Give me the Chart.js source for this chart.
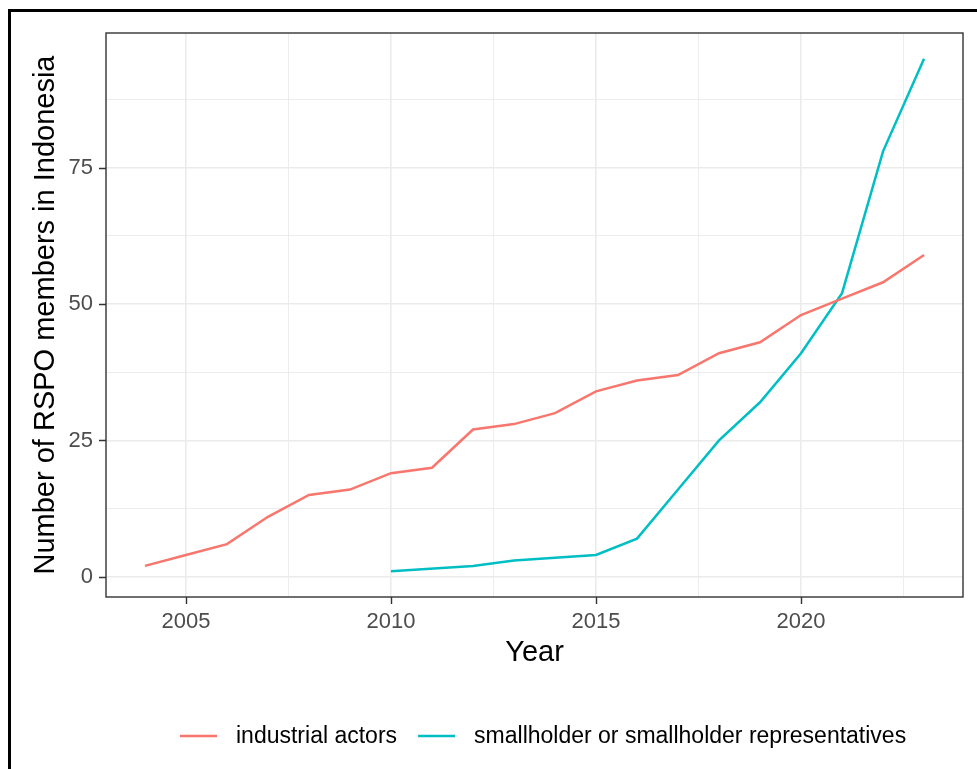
<!DOCTYPE html>
<html>
<head>
<meta charset="utf-8">
<title>RSPO members in Indonesia</title>
<script src="https://cdn.jsdelivr.net/npm/chart.js@4.4.1/dist/chart.umd.min.js"></script>
<style>
  html, body { margin: 0; padding: 0; background: #fff; }
  #wrap { position: relative; width: 977px; height: 769px; }
  #frame { position: absolute; left: 8px; top: 9px; right: 0; bottom: 0;
           border-left: 3px solid #000; border-top: 3px solid #000; pointer-events: none; }
  canvas { position: absolute; left: 0; top: 0; }
</style>
</head>
<body>
<div id="wrap">
  <canvas id="rspo-chart" width="977" height="769"></canvas>
  <div id="frame"></div>
</div>
<script>
// Datos
const years = [2004, 2005, 2006, 2007, 2008, 2009, 2010, 2011, 2012, 2013,
               2014, 2015, 2016, 2017, 2018, 2019, 2020, 2021, 2022, 2023];
const industrialActors = [2, 4, 6, 11, 15, 16, 19, 20, 27, 28,
                          30, 34, 36, 37, 41, 43, 48, 51, 54, 59];
const smallholders = [null, null, null, null, null, null, 1, null, 2, 3,
                      3.5, 4, 7, 16, 25, 32, 41, 52, 78, 95];
const seriesLabels = ['industrial actors', 'smallholder or smallholder representatives'];
const seriesColors = ['#F8766D', '#00BFC4'];
const xTicks = [2005, 2007.5, 2010, 2012.5, 2015, 2017.5, 2020, 2022.5];
const yTicks = [0, 12.5, 25, 37.5, 50, 62.5, 75, 87.5];

const FONT = "'Liberation Sans', Arial, sans-serif";
const GRID = '#EBEBEB';
const DARK = '#333333';
const TICK_LEN = 7;

function toPoints(values) {
    return years.map((year, i) => ({ x: year, y: values[i] }));
}

// Marco del panel y marcas de los ejes (como theme_bw)
const panelBorder = {
    id: 'panelBorder',
    afterDatasetsDraw(chart) {
        const { ctx, chartArea: a, scales } = chart;
        ctx.save();
        ctx.strokeStyle = DARK;
        ctx.lineWidth = 1.4;
        ctx.strokeRect(a.left, a.top, a.right - a.left, a.bottom - a.top);
        ctx.beginPath();
        xTicks.filter(v => v % 5 === 0).forEach((v) => {
            const px = Math.round(scales.x.getPixelForValue(v)) + 0.5;
            ctx.moveTo(px, a.bottom);
            ctx.lineTo(px, a.bottom + TICK_LEN);
        });
        yTicks.filter(v => v % 25 === 0).forEach((v) => {
            const py = Math.round(scales.y.getPixelForValue(v)) + 0.5;
            ctx.moveTo(a.left, py);
            ctx.lineTo(a.left - TICK_LEN, py);
        });
        ctx.stroke();
        ctx.restore();
    }
};

// Leyenda inferior dibujada a mano para imitar ggplot
const bottomLegend = {
    id: 'bottomLegend',
    afterDraw(chart) {
        const { ctx } = chart;
        const y = 736;
        let x = 180;
        ctx.save();
        ctx.font = '23px ' + FONT;
        ctx.textBaseline = 'middle';
        ctx.fillStyle = '#000';
        chart.data.datasets.forEach((ds) => {
            ctx.strokeStyle = ds.borderColor;
            ctx.lineWidth = 2.5;
            ctx.beginPath();
            ctx.moveTo(x, y);
            ctx.lineTo(x + 37, y);
            ctx.stroke();
            x += 37 + 19;
            ctx.fillText(ds.label, x, y + 1);
            x += ctx.measureText(ds.label).width + 21;
        });
        ctx.restore();
    }
};

const config = {
    type: 'line',
    data: {
        datasets: [
            {
                label: seriesLabels[0],
                data: toPoints(industrialActors),
                borderColor: seriesColors[0],
                backgroundColor: seriesColors[0],
                borderWidth: 2.5,
                pointRadius: 0,
                tension: 0
            },
            {
                label: seriesLabels[1],
                data: toPoints(smallholders),
                borderColor: seriesColors[1],
                backgroundColor: seriesColors[1],
                borderWidth: 2.5,
                pointRadius: 0,
                tension: 0,
                spanGaps: true
            }
        ]
    },
    options: {
        responsive: false,
        animation: false,
        devicePixelRatio: 1,
        layout: { padding: { top: 33, right: 14, left: 0, bottom: 92 } },
        plugins: {
            legend: { display: false },
            tooltip: { enabled: false }
        },
        scales: {
            x: {
                type: 'linear',
                min: 2003.05,
                max: 2023.95,
                afterBuildTicks: (scale) => { scale.ticks = xTicks.map(v => ({ value: v })); },
                afterFit: (scale) => { scale.height = 80; },
                border: { display: false },
                grid: {
                    color: GRID,
                    lineWidth: (c) => (c.tick && c.tick.value % 5 === 0 ? 1.6 : 0.9),
                    drawTicks: false
                },
                ticks: {
                    autoSkip: false,
                    maxRotation: 0,
                    padding: TICK_LEN + 5,
                    color: '#4D4D4D',
                    font: { family: FONT, size: 22 },
                    callback: (v) => (v % 5 === 0 ? String(v) : '')
                },
                title: {
                    display: true,
                    text: 'Year',
                    color: '#000',
                    font: { family: FONT, size: 29, lineHeight: 1 },
                    padding: { top: 0, bottom: 10 }
                }
            },
            y: {
                type: 'linear',
                min: -3.7,
                max: 99.7,
                afterBuildTicks: (scale) => { scale.ticks = yTicks.map(v => ({ value: v })); },
                afterFit: (scale) => { scale.width = 106; },
                border: { display: false },
                grid: {
                    color: GRID,
                    lineWidth: (c) => (c.tick && c.tick.value % 25 === 0 ? 1.6 : 0.9),
                    drawTicks: false
                },
                ticks: {
                    autoSkip: false,
                    padding: TICK_LEN + 6,
                    color: '#4D4D4D',
                    font: { family: FONT, size: 22 },
                    callback: (v) => (v % 25 === 0 ? String(v) : '')
                },
                title: {
                    display: true,
                    text: 'Number of RSPO members in Indonesia',
                    color: '#000',
                    font: { family: FONT, size: 29, lineHeight: 1 },
                    padding: { top: 31, bottom: 0 }
                }
            }
        }
    },
    plugins: [panelBorder, bottomLegend]
};

const ctx = document.getElementById('rspo-chart').getContext('2d');
new Chart(ctx, config);
</script>
</body>
</html>
